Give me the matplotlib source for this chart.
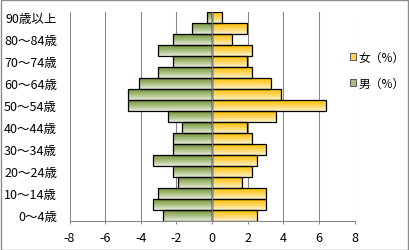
import matplotlib
matplotlib.use('Agg')
import matplotlib.pyplot as plt
import numpy as np
from matplotlib.colors import LinearSegmentedColormap
from matplotlib.patches import Rectangle, Patch

plt.rcParams['font.family'] = ['Noto Sans CJK JP', 'DejaVu Sans']
plt.rcParams['axes.unicode_minus'] = False

# ---- data ----
ages = ['0～4歳', '5～9歳', '10～14歳', '15～19歳', '20～24歳', '25～29歳',
        '30～34歳', '35～39歳', '40～44歳', '45～49歳', '50～54歳', '55～59歳',
        '60～64歳', '65～69歳', '70～74歳', '75～79歳', '80～84歳', '85～89歳',
        '90歳以上']
male = [-2.75, -3.31, -3.03, -1.91, -2.19, -3.31, -2.19, -2.19, -1.68, -2.47,
        -4.71, -4.71, -4.12, -3.03, -2.19, -3.03, -2.19, -1.12, -0.28]
female = [2.52, 3.03, 3.03, 1.68, 2.24, 2.52, 3.03, 2.24, 1.96, 3.61,
          6.41, 3.89, 3.33, 2.24, 1.96, 2.24, 1.12, 1.96, 0.56]
xticks = [-8, -6, -4, -2, 0, 2, 4, 6, 8]
series_labels = ['女（%）', '男（%）']

W, H = 409, 251
fig = plt.figure(figsize=(W / 100, H / 100), dpi=100)
ax = fig.add_axes([69.5 / W, 1 - 222 / H, (354.5 - 69.5) / W, (222 - 13) / H])

GRID = '#868686'
y = np.arange(len(ages))
bm = ax.barh(y, male, height=0.96, facecolor='none', edgecolor='black',
             linewidth=0.9, zorder=2)
bf = ax.barh(y, female, height=0.96, facecolor='none', edgecolor='black',
             linewidth=0.9, zorder=2)

green_cmap = LinearSegmentedColormap.from_list('g', ['#e6ecdd', '#a8be7e', '#76933c'])
gold_cmap = LinearSegmentedColormap.from_list('y', ['#fdf1cc', '#ffd65c', '#ffc000'])
grad = np.linspace(0, 1, 64).reshape(-1, 1)
for bars, cmap in [(bm, green_cmap), (bf, gold_cmap)]:
    for p in bars.patches:
        x0, y0 = p.get_x(), p.get_y()
        w, h = p.get_width(), p.get_height()
        im = ax.imshow(grad, cmap=cmap, origin='lower', aspect='auto',
                       extent=[x0, x0 + w, y0, y0 + h], zorder=1.9,
                       interpolation='bilinear')
        im.set_clip_path(p)

ax.set_xlim(-8, 8)
ax.set_ylim(-0.5, len(ages) - 0.5)
ax.set_xticks(xticks)
ax.set_xticklabels([str(v) for v in xticks])
ax.xaxis.grid(True, color=GRID, linewidth=0.75)
ax.set_axisbelow(True)

for s in ['top', 'right']:
    ax.spines[s].set_visible(False)
ax.spines['bottom'].set_color(GRID)
ax.spines['bottom'].set_linewidth(0.75)
ax.spines['left'].set_position(('data', 0))
ax.spines['left'].set_color(GRID)
ax.spines['left'].set_linewidth(0.75)
ax.spines['left'].set_zorder(2.5)

ax.set_yticks([])
ax.set_yticks(np.arange(-0.5, len(ages), 1), minor=True)
ax.tick_params(axis='y', which='minor', direction='inout', length=3,
               color=GRID, width=0.75, labelleft=False)
ax.tick_params(axis='x', length=2.5, color=GRID, width=0.75, pad=5,
               labelsize=9, labelcolor='black')

sec = ax.secondary_yaxis(0.0)
sec.set_yticks(y[::2])
sec.set_yticklabels(ages[::2])
sec.tick_params(length=0, pad=9, labelsize=9)
sec.spines['left'].set_visible(False)

handles = [Patch(facecolor='#ffd34d', edgecolor='#404040', linewidth=0.6),
           Patch(facecolor='#a8be7e', edgecolor='#404040', linewidth=0.6)]
fig.legend(handles, series_labels, loc='upper left',
           bbox_to_anchor=(350 / W, 1 - 52 / H), frameon=False,
           fontsize=8.5, handlelength=0.55, handleheight=0.55,
           handletextpad=0.15, labelspacing=1.05, borderpad=0, borderaxespad=0)

fig.patches.append(Rectangle((0.5 / W, 0.5 / H), 1 - 1.5 / W, 1 - 1.5 / H,
                             transform=fig.transFigure, fill=False,
                             edgecolor='#8c8c8c', linewidth=1))

fig.savefig('out.png', dpi=100)
